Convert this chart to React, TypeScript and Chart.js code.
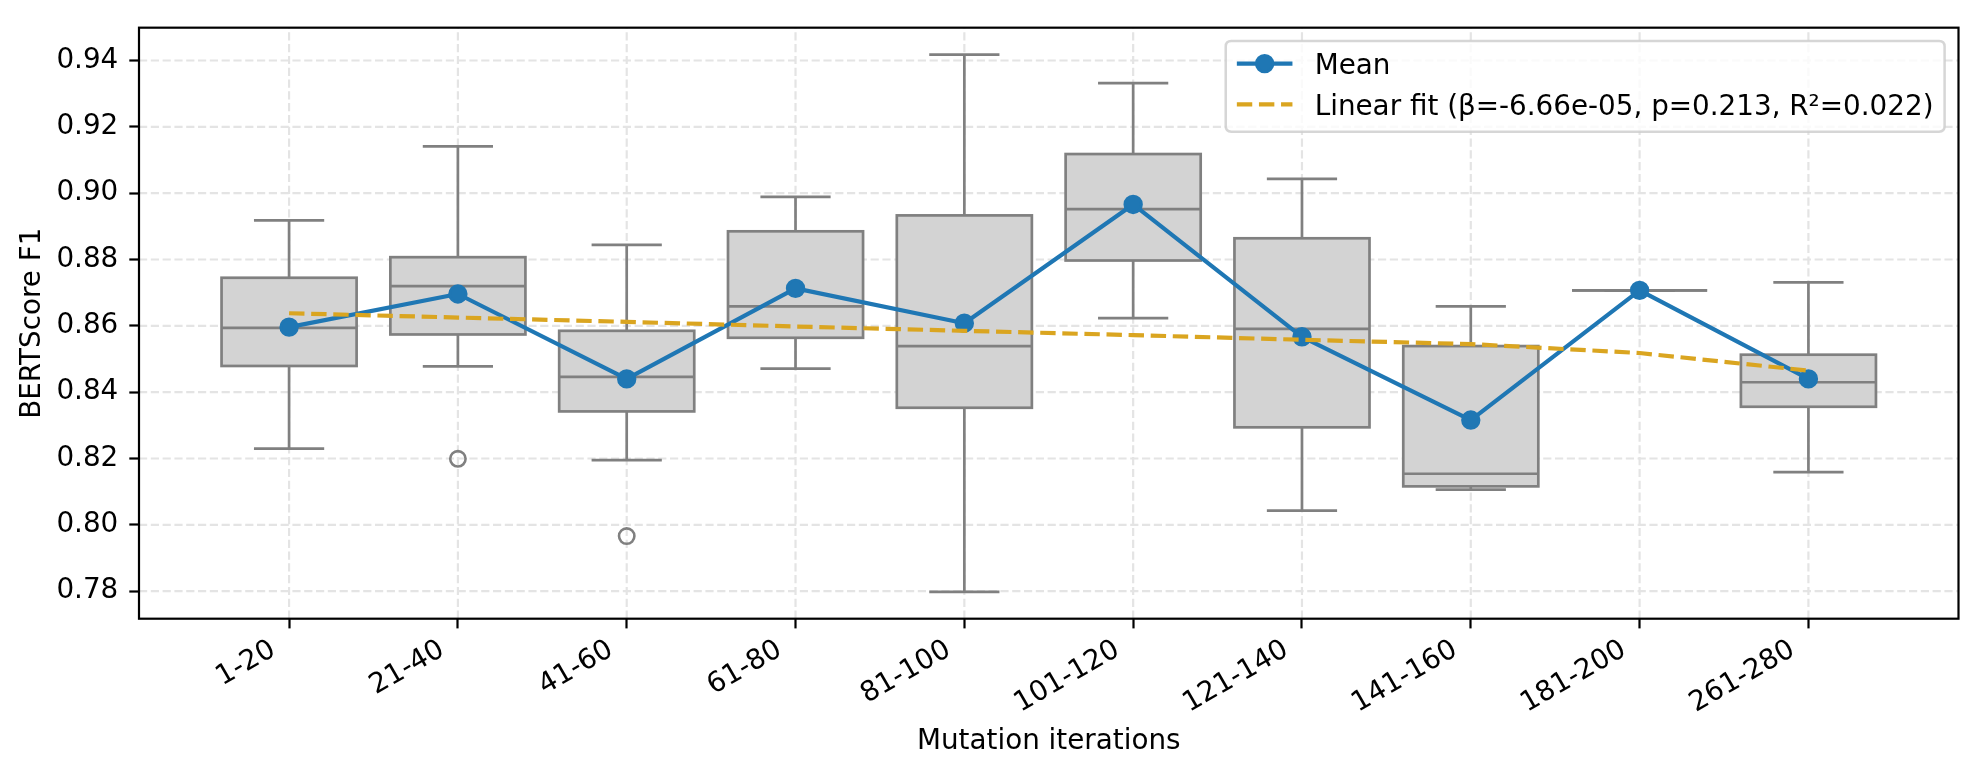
import React, { useEffect, useRef } from 'react';
import { Chart, registerables } from 'chart.js';

Chart.register(...registerables);

// ---------- data ----------
const categories = ['1-20', '21-40', '41-60', '61-80', '81-100', '101-120', '121-140', '141-160', '181-200', '261-280'];
const whiskerLow = [0.8230, 0.8478, 0.8195, 0.8471, 0.7798, 0.8623, 0.8043, 0.8106, 0.8707, 0.8159];
const q1 = [0.8479, 0.8574, 0.8342, 0.8564, 0.8353, 0.8797, 0.8294, 0.8116, 0.8707, 0.8356];
const median = [0.8594, 0.8720, 0.8446, 0.8659, 0.8539, 0.8952, 0.8591, 0.8154, 0.8707, 0.8430];
const q3 = [0.8745, 0.8807, 0.8585, 0.8885, 0.8933, 0.9118, 0.8864, 0.8539, 0.8707, 0.8513];
const whiskerHigh = [0.8918, 0.9141, 0.8844, 0.8989, 0.9418, 0.9332, 0.9043, 0.8659, 0.8707, 0.8731];
const outliers: number[][] = [[], [0.8199], [0.7966], [], [], [], [], [], [], []];
const means = [0.8596, 0.8696, 0.8440, 0.8713, 0.8608, 0.8966, 0.8567, 0.8316, 0.8707, 0.8440];
const linearFit = [0.8638, 0.8625, 0.8612, 0.8598, 0.8585, 0.8572, 0.8558, 0.8545, 0.8518, 0.8465];
const yTicks = [0.78, 0.8, 0.82, 0.84, 0.86, 0.88, 0.9, 0.92, 0.94];

const meanLabel = 'Mean';
const fitLabel = 'Linear fit (β=-6.66e-05, p=0.213, R²=0.022)';
const xTitle = 'Mutation iterations';
const yTitle = 'BERTScore F1';

// ---------- styling ----------
const FONT = '"DejaVu Sans", sans-serif';
const FS = 27.8;
const BLUE = '#1f77b4';
const GOLD = '#DAA520';
const GRAY = '#808080';
const BOXFILL = '#d3d3d3';
const GRID = '#e4e4e4';
const X_MIN = -0.889;
const X_MAX = 9.889;
const Y_MIN = 0.7717;
const Y_MAX = 0.9499;

const decorPlugin = {
  id: 'decor',
  beforeDatasetsDraw(chart: any) {
    const { ctx, chartArea: a, scales } = chart;
    const xs = scales.x;
    const ys = scales.y;
    ctx.save();
    ctx.beginPath();
    ctx.rect(a.left, a.top, a.right - a.left, a.bottom - a.top);
    ctx.clip();
    // dashed grid
    ctx.strokeStyle = GRID;
    ctx.lineWidth = 2.2;
    ctx.setLineDash([8.2, 3.6]);
    yTicks.forEach((v) => {
      const py = ys.getPixelForValue(v);
      ctx.beginPath();
      ctx.moveTo(a.left, py);
      ctx.lineTo(a.right, py);
      ctx.stroke();
    });
    categories.forEach((_, i) => {
      const px = xs.getPixelForValue(i);
      ctx.beginPath();
      ctx.moveTo(px, a.bottom);
      ctx.lineTo(px, a.top);
      ctx.stroke();
    });
    ctx.setLineDash([]);

    const line = (x1: number, y1: number, x2: number, y2: number) => {
      ctx.beginPath();
      ctx.moveTo(x1, y1);
      ctx.lineTo(x2, y2);
      ctx.stroke();
    };
    // box plots
    categories.forEach((_, i) => {
      const cx = xs.getPixelForValue(i);
      const hw = xs.getPixelForValue(i + 0.4) - cx;
      const cw = xs.getPixelForValue(i + 0.2) - cx;
      const yq1 = ys.getPixelForValue(q1[i]);
      const yq3 = ys.getPixelForValue(q3[i]);
      const ymed = ys.getPixelForValue(median[i]);
      const ylo = ys.getPixelForValue(whiskerLow[i]);
      const yhi = ys.getPixelForValue(whiskerHigh[i]);
      ctx.strokeStyle = GRAY;
      ctx.lineWidth = 2.7;
      ctx.lineCap = 'butt';
      ctx.lineJoin = 'miter';
      // whiskers
      line(cx, yq3, cx, yhi);
      line(cx, yq1, cx, ylo);
      // box
      ctx.fillStyle = BOXFILL;
      ctx.fillRect(cx - hw, yq3, 2 * hw, yq1 - yq3);
      ctx.strokeRect(cx - hw, yq3, 2 * hw, yq1 - yq3);
      // caps
      ctx.lineCap = 'square';
      line(cx - cw, yhi, cx + cw, yhi);
      line(cx - cw, ylo, cx + cw, ylo);
      // median
      ctx.lineCap = 'butt';
      line(cx - hw, ymed, cx + hw, ymed);
      // fliers
      ctx.lineWidth = 2.6;
      outliers[i].forEach((v) => {
        const py = ys.getPixelForValue(v);
        ctx.beginPath();
        ctx.arc(cx, py, 7.7, 0, Math.PI * 2);
        ctx.stroke();
      });
    });
    ctx.restore();
  },
  afterDatasetsDraw(chart: any) {
    const { ctx, chartArea: a } = chart;
    ctx.save();
    ctx.strokeStyle = '#000';
    ctx.lineWidth = 2.2;
    ctx.lineJoin = 'miter';
    ctx.strokeRect(a.left, a.top, a.right - a.left, a.bottom - a.top);
    ctx.restore();
  },
  afterDraw(chart: any) {
    const { ctx, chartArea: a } = chart;
    ctx.save();
    ctx.font = `${FS}px ${FONT}`;
    const tw = Math.max(ctx.measureText(meanLabel).width, ctx.measureText(fitLabel).width);
    const pad = 0.4 * FS;
    const hl = 2 * FS;
    const htp = 0.8 * FS;
    const bap = 0.5 * FS;
    const w = pad + hl + htp + tw + pad;
    const right = a.right - bap;
    const left = right - w;
    const top = a.top + 13.3;
    const h = 90.7;
    const r = 0.2 * FS;
    ctx.beginPath();
    ctx.moveTo(left + r, top);
    ctx.lineTo(right - r, top);
    ctx.quadraticCurveTo(right, top, right, top + r);
    ctx.lineTo(right, top + h - r);
    ctx.quadraticCurveTo(right, top + h, right - r, top + h);
    ctx.lineTo(left + r, top + h);
    ctx.quadraticCurveTo(left, top + h, left, top + h - r);
    ctx.lineTo(left, top + r);
    ctx.quadraticCurveTo(left, top, left + r, top);
    ctx.closePath();
    ctx.fillStyle = 'rgba(255,255,255,0.8)';
    ctx.fill();
    ctx.strokeStyle = 'rgba(204,204,204,0.8)';
    ctx.lineWidth = 2.5;
    ctx.stroke();

    const row1 = top + 22.7;
    const row2 = top + 63.4;
    const hx0 = left + pad;
    const hx1 = hx0 + hl;
    // Mean handle
    ctx.strokeStyle = BLUE;
    ctx.lineWidth = 4.17;
    ctx.lineCap = 'butt';
    ctx.beginPath();
    ctx.moveTo(hx0, row1);
    ctx.lineTo(hx1, row1);
    ctx.stroke();
    ctx.beginPath();
    ctx.arc((hx0 + hx1) / 2, row1, 8.3, 0, Math.PI * 2);
    ctx.fillStyle = BLUE;
    ctx.fill();
    ctx.lineWidth = 2.78;
    ctx.stroke();
    // Fit handle
    ctx.strokeStyle = GOLD;
    ctx.lineWidth = 4.17;
    ctx.setLineDash([15.4, 6.7]);
    ctx.beginPath();
    ctx.moveTo(hx0, row2);
    ctx.lineTo(hx1, row2);
    ctx.stroke();
    ctx.setLineDash([]);
    // labels
    ctx.fillStyle = '#000';
    ctx.textAlign = 'left';
    ctx.textBaseline = 'alphabetic';
    const tx = hx1 + htp;
    ctx.fillText(meanLabel, tx, row1 + 10.7);
    ctx.fillText(fitLabel, tx, row2 + 10.7);
    ctx.restore();
  },
};

export default function App() {
  const ref = useRef<HTMLCanvasElement>(null);
  useEffect(() => {
    const canvas = ref.current;
    if (!canvas) return;
    const chart = new Chart(canvas, {
      type: 'line',
      data: {
        datasets: [
          {
            label: fitLabel,
            data: linearFit.map((v, i) => ({ x: i, y: v })),
            borderColor: GOLD,
            backgroundColor: GOLD,
            borderWidth: 4.17,
            borderDash: [15.4, 6.7],
            borderCapStyle: 'butt',
            pointRadius: 0,
            pointHoverRadius: 0,
            fill: false,
            order: 0,
          },
          {
            label: meanLabel,
            data: means.map((v, i) => ({ x: i, y: v })),
            borderColor: BLUE,
            backgroundColor: BLUE,
            borderWidth: 4.17,
            borderJoinStyle: 'round',
            pointRadius: 8.3,
            pointHoverRadius: 8.3,
            pointBackgroundColor: BLUE,
            pointBorderColor: BLUE,
            pointBorderWidth: 2.78,
            fill: false,
            order: 1,
          },
        ],
      } as any,
      options: {
        responsive: false,
        maintainAspectRatio: false,
        devicePixelRatio: 1,
        animation: false,
        events: [],
        layout: { padding: { left: 0, top: 20, right: 20.5, bottom: 0 } },
        plugins: {
          legend: { display: false },
          tooltip: { enabled: false },
        },
        scales: {
          x: {
            type: 'linear',
            min: X_MIN,
            max: X_MAX,
            bounds: 'data',
            afterBuildTicks: (s: any) => {
              s.ticks = categories.map((_, i) => ({ value: i }));
            },
            afterFit: (s: any) => {
              s.height = 160.3;
            },
            ticks: {
              autoSkip: false,
              minRotation: 30,
              maxRotation: 30,
              padding: 5,
              labelOffset: -15.7,
              color: '#000',
              font: { family: FONT, size: FS },
              callback: (v: any) => categories[Math.round(Number(v))] ?? '',
            },
            grid: {
              drawOnChartArea: false,
              drawTicks: true,
              tickLength: 9.7,
              tickColor: '#000',
              tickWidth: 2.2,
              color: '#000',
            },
            border: { display: false },
            title: {
              display: true,
              text: xTitle,
              color: '#000',
              font: { family: FONT, size: FS },
              padding: { top: 0, bottom: 20.3 },
            },
          },
          y: {
            type: 'linear',
            min: Y_MIN,
            max: Y_MAX,
            bounds: 'data',
            afterBuildTicks: (s: any) => {
              s.ticks = yTicks.map((v) => ({ value: v }));
            },
            afterFit: (s: any) => {
              s.width = 139;
            },
            ticks: {
              padding: 11,
              color: '#000',
              font: { family: FONT, size: FS },
              callback: (v: any) => Number(v).toFixed(2),
            },
            grid: {
              drawOnChartArea: false,
              drawTicks: true,
              tickLength: 9.7,
              tickColor: '#000',
              tickWidth: 2.2,
              color: '#000',
            },
            border: { display: false },
            title: {
              display: true,
              text: yTitle,
              color: '#000',
              font: { family: FONT, size: FS },
              padding: { top: 15.8, bottom: 0 },
            },
          },
        },
      } as any,
      plugins: [decorPlugin],
    });
    return () => chart.destroy();
  }, []);
  return (
    <div style={{ position: 'absolute', left: 0, top: 0, width: 1979, height: 779, background: '#fff' }}>
      <canvas ref={ref} width={1979} height={779} style={{ display: 'block', width: 1979, height: 779 }} />
    </div>
  );
}
